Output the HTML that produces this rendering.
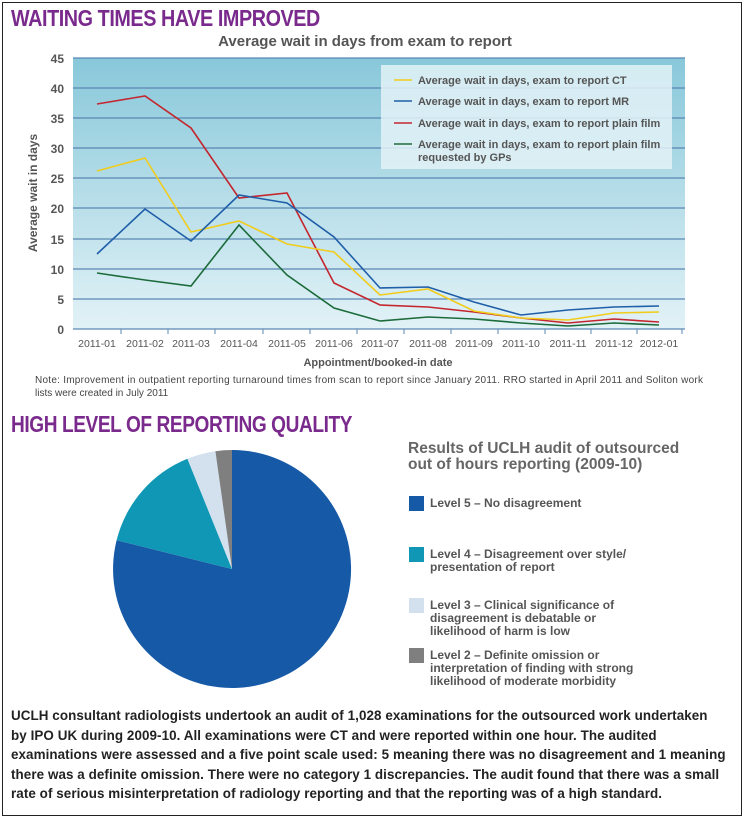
<!DOCTYPE html>
<html><head><meta charset="utf-8"><style>
body{margin:0;background:#fff;font-family:"Liberation Sans",sans-serif;}
.wrap{position:relative;width:747px;height:819px;overflow:hidden;}
.frame{position:absolute;left:2px;top:2px;width:738px;height:812px;border:1.5px solid #222;}
.h{position:absolute;color:#7a2a8c;font-weight:bold;font-size:23px;letter-spacing:-0.5px;transform-origin:left;white-space:nowrap}
p.body{position:absolute;left:11px;top:706px;width:735px;margin:0;font-size:13.4px;font-weight:bold;color:#222;line-height:19.5px;letter-spacing:0.08px;white-space:nowrap}
</style></head><body><div class="wrap">
<div class="frame"></div>
<div class="h" style="left:11px;top:5px;transform:scaleX(0.86)">WAITING TIMES HAVE IMPROVED</div>
<div class="h" style="left:11px;top:411px;transform:scaleX(0.83)">HIGH LEVEL OF REPORTING QUALITY</div>
<svg width="747" height="819" style="position:absolute;left:0;top:0" font-family="Liberation Sans, sans-serif">
<defs><linearGradient id="g" x1="0" y1="0" x2="0" y2="1"><stop offset="0" stop-color="#88c8da"/><stop offset="1" stop-color="#e2f2f7"/></linearGradient></defs>
<text x="365" y="46" text-anchor="middle" font-size="15" font-weight="bold" fill="#555">Average wait in days from exam to report</text>
<rect x="73" y="58" width="612" height="271" fill="url(#g)"/>
<g stroke="#5b87b3" stroke-width="1.3">
<line x1="73" x2="685" y1="58" y2="58"/><line x1="73" x2="685" y1="88" y2="88"/><line x1="73" x2="685" y1="118" y2="118"/><line x1="73" x2="685" y1="148" y2="148"/><line x1="73" x2="685" y1="178" y2="178"/><line x1="73" x2="685" y1="208" y2="208"/><line x1="73" x2="685" y1="239" y2="239"/><line x1="73" x2="685" y1="269" y2="269"/><line x1="73" x2="685" y1="299" y2="299"/><line x1="73" x2="685" y1="329" y2="329"/>
</g>
<g stroke="#5b87b3" stroke-width="1">
<line x1="121" x2="121" y1="329" y2="334"/><line x1="168" x2="168" y1="329" y2="334"/><line x1="215" x2="215" y1="329" y2="334"/><line x1="263" x2="263" y1="329" y2="334"/><line x1="310" x2="310" y1="329" y2="334"/><line x1="357" x2="357" y1="329" y2="334"/><line x1="404" x2="404" y1="329" y2="334"/><line x1="451" x2="451" y1="329" y2="334"/><line x1="498" x2="498" y1="329" y2="334"/><line x1="545" x2="545" y1="329" y2="334"/><line x1="591" x2="591" y1="329" y2="334"/><line x1="637" x2="637" y1="329" y2="334"/><line x1="682" x2="682" y1="329" y2="334"/>
</g>
<g font-size="12" font-weight="bold" fill="#555" text-anchor="end">
<text x="64" y="63">45</text><text x="64" y="93">40</text><text x="64" y="123">35</text><text x="64" y="153">30</text><text x="64" y="183">25</text><text x="64" y="213">20</text><text x="64" y="244">15</text><text x="64" y="274">10</text><text x="64" y="304">5</text><text x="64" y="334">0</text>
</g>
<text transform="translate(37,193) rotate(-90)" text-anchor="middle" font-size="12" font-weight="bold" fill="#555">Average wait in days</text>
<g font-size="10.5" fill="#555" text-anchor="middle">
<text x="97" y="347">2011-01</text><text x="145" y="347">2011-02</text><text x="191" y="347">2011-03</text><text x="239" y="347">2011-04</text><text x="287" y="347">2011-05</text><text x="334" y="347">2011-06</text><text x="380" y="347">2011-07</text><text x="428" y="347">2011-08</text><text x="474" y="347">2011-09</text><text x="521" y="347">2011-10</text><text x="568" y="347">2011-11</text><text x="614" y="347">2011-12</text><text x="659" y="347">2012-01</text>
</g>
<text x="378" y="366" text-anchor="middle" font-size="11" font-weight="bold" fill="#555">Appointment/booked-in date</text>
<text x="35" y="383" font-size="10" fill="#444" textLength="668">Note: Improvement in outpatient reporting turnaround times from scan to report since January 2011. RRO started in April 2011 and Soliton work</text>
<text x="35" y="396" font-size="10" fill="#444">lists were created in July 2011</text>
<g fill="none" stroke-width="1.6">
<polyline stroke="#c4262e" points="97,104 145,96 191,128 239,198 287,193 334,283 380,305 428,307 474,312 521,318 568,323 614,319 659,322"/>
<polyline stroke="#f1cc1c" points="97,171 145,158 191,232 239,221 287,244 334,252 380,295 428,289 474,311 521,318 568,320 614,313 659,312"/>
<polyline stroke="#1f5ea8" points="97,254 145,209 191,241 239,195 287,203 334,237 380,288 428,287 474,302 521,315 568,310 614,307 659,306"/>
<polyline stroke="#1c6b3a" points="97,273 145,280 191,286 239,225 287,275 334,308 380,321 428,317 474,319 521,323 568,326 614,323 659,325"/>
</g>
<rect x="381" y="65" width="291" height="104" fill="#e3f2f7" opacity="0.85"/>
<g stroke-width="1.6"><line x1="394" x2="412" y1="80" y2="80" stroke="#f1cc1c"/><line x1="394" x2="412" y1="101" y2="101" stroke="#1f5ea8"/><line x1="394" x2="412" y1="123" y2="123" stroke="#c4262e"/><line x1="394" x2="412" y1="144" y2="144" stroke="#1c6b3a"/></g>
<g font-size="11" font-weight="bold" fill="#555">
<text x="418" y="84">Average wait in days, exam to report CT</text>
<text x="418" y="105">Average wait in days, exam to report MR</text>
<text x="418" y="127">Average wait in days, exam to report plain film</text>
<text x="418" y="148">Average wait in days, exam to report plain film</text>
<text x="418" y="161">requested by GPs</text>
</g>
<path d="M232,569 L232,450 A119,119 0 1 1 116.6,540.2 Z" fill="#1659a7"/>
<path d="M232,569 L116.6,540.2 A119,119 0 0 1 187.4,458.7 Z" fill="#0f97b5"/>
<path d="M232,569 L187.4,458.7 A119,119 0 0 1 215.4,451.2 Z" fill="#d3e0ee"/>
<path d="M232,569 L215.4,451.2 A119,119 0 0 1 232,450 Z" fill="#7f7f80"/>
<g font-weight="bold" fill="#666"><text x="408" y="453" font-size="15.5">Results of UCLH audit of outsourced</text><text x="408" y="469" font-size="15.5">out of hours reporting (2009-10)</text></g>
<rect x="409" y="496" width="15" height="15" fill="#1659a7"/>
<rect x="409" y="547" width="15" height="15" fill="#0f97b5"/>
<rect x="409" y="598" width="15" height="15" fill="#d3e0ee"/>
<rect x="409" y="648" width="15" height="15" fill="#7f7f80"/>
<g font-size="12" font-weight="bold" fill="#555">
<text x="430" y="507">Level 5 – No disagreement</text>
<text x="430" y="558">Level 4 – Disagreement over style/</text><text x="430" y="571">presentation of report</text>
<text x="430" y="609">Level 3 – Clinical significance of</text><text x="430" y="622">disagreement is debatable or</text><text x="430" y="635">likelihood of harm is low</text>
<text x="430" y="659">Level 2 – Definite omission or</text><text x="430" y="672">interpretation of finding with strong</text><text x="430" y="685">likelihood of moderate morbidity</text>
</g>
</svg>
<p class="body">UCLH consultant radiologists undertook an audit of 1,028 examinations for the outsourced work undertaken<br>by IPO UK during 2009-10. All examinations were CT and were reported within one hour. The audited<br>examinations were assessed and a five point scale used: 5 meaning there was no disagreement and 1 meaning<br>there was a definite omission. There were no category 1 discrepancies. The audit found that there was a small<br>rate of serious misinterpretation of radiology reporting and that the reporting was of a high standard.</p>
</div></body></html>
